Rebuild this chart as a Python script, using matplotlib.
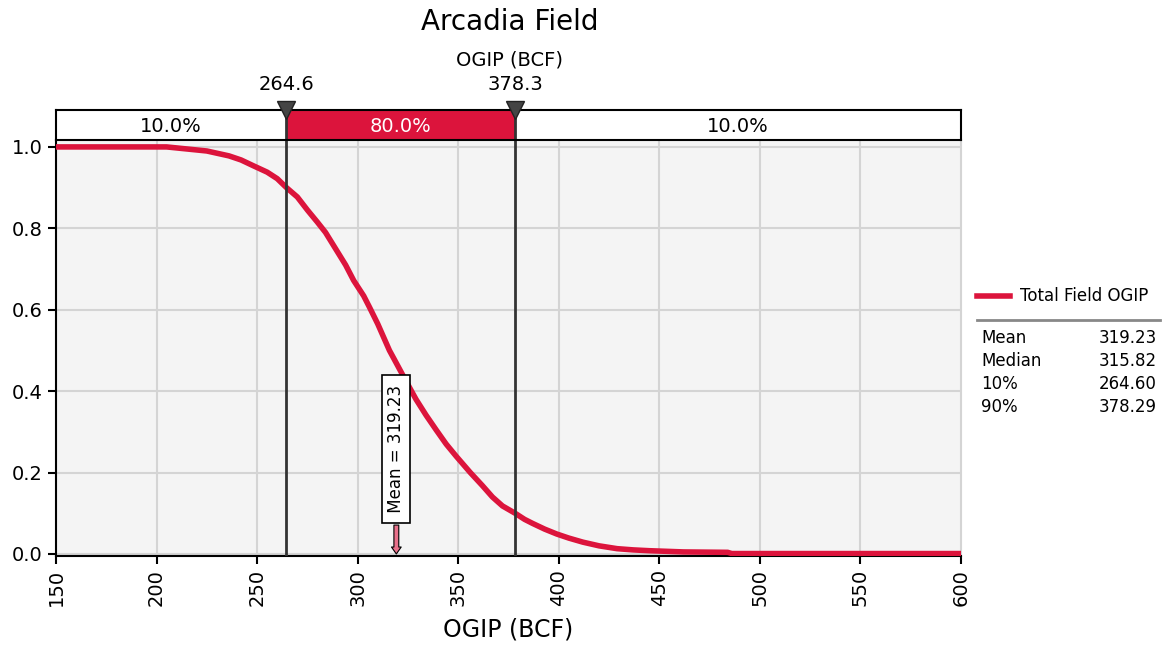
import matplotlib.pyplot as plt
from matplotlib.lines import Line2D

# exceedance curve: OGIP (BCF) -> probability
ogip = [150, 205, 215, 225, 236, 242, 248, 255, 260, 264.6, 270, 275, 280, 284,
        290, 294, 298, 303, 306, 310, 315.8, 318, 324, 329, 334, 339, 344, 349,
        356, 362, 367, 372, 378.3, 383, 387, 393, 399, 405, 412, 420, 429, 437,
        445, 462, 484, 486, 600]
prob = [1.0, 1.0, 0.995, 0.99, 0.978, 0.968, 0.954, 0.938, 0.922, 0.90, 0.877,
        0.845, 0.815, 0.79, 0.742, 0.71, 0.672, 0.634, 0.605, 0.565, 0.50, 0.48,
        0.425, 0.38, 0.341, 0.305, 0.27, 0.24, 0.20, 0.168, 0.14, 0.118, 0.10,
        0.085, 0.075, 0.061, 0.049, 0.039, 0.029, 0.02, 0.013, 0.01, 0.008,
        0.005, 0.004, 0.001, 0.001]

p10 = 264.6
p90 = 378.3
mean_val = 319.23
shares = [10.0, 80.0, 10.0]

stat_names = ['Mean', 'Median', '10%', '90%']
stat_values = [319.23, 315.82, 264.60, 378.29]

xticks = [150, 200, 250, 300, 350, 400, 450, 500, 550, 600]
yticks = [0.0, 0.2, 0.4, 0.6, 0.8, 1.0]

red = '#dc143c'
W, H = 1164, 653

fig = plt.figure(figsize=(W / 100, H / 100), dpi=100)

def px_axes(x0, y0, x1, y1):
    return fig.add_axes([x0 / W, 1 - y1 / H, (x1 - x0) / W, (y1 - y0) / H])

# main plot
ax = px_axes(56, 140, 961, 556)
ax.set_facecolor('#f4f4f4')
ax.plot(ogip, prob, color=red, lw=4, solid_capstyle='butt', zorder=3)
ax.set_xlim(150, 600)
ax.set_ylim(-0.005, 1.017)
ax.set_xticks(xticks)
ax.set_xticklabels([str(v) for v in xticks], rotation=90, fontsize=14)
ax.set_yticks(yticks)
ax.set_yticklabels([f'{v:.1f}' for v in yticks], fontsize=14)
ax.grid(True, color='#d4d4d4', lw=1.5)
ax.set_axisbelow(True)
ax.tick_params(length=6, width=1.5, direction='out')
ax.spines['top'].set_visible(False)
ax.spines['right'].set_color('#d4d4d4')
ax.spines['left'].set_linewidth(1.5)
ax.spines['bottom'].set_linewidth(1.5)
ax.set_xlabel('OGIP (BCF)', fontsize=17, labelpad=8)

for p in (p10, p90):
    ax.axvline(p, color='#333333', lw=2, zorder=4)

# mean marker
ax.text(mean_val, 0.258, f' Mean = {mean_val:.2f} ', rotation=90, ha='center',
        va='center', fontsize=12, zorder=6,
        bbox=dict(boxstyle='square,pad=0.3', fc='white', ec='black', lw=1.2))
ax.annotate('', xy=(mean_val, 0.0), xytext=(mean_val, 0.071),
            arrowprops=dict(arrowstyle='simple,head_width=0.7,head_length=0.5,tail_width=0.35',
                            fc='#e8708a', ec='black', lw=0.8, shrinkA=0, shrinkB=0),
            zorder=6)

# percentile bar above the plot
bx = px_axes(56, 110, 961, 140)
bx.set_xlim(150, 600)
bx.set_ylim(0, 1)
bx.set_xticks([])
bx.set_yticks([])
for s in bx.spines.values():
    s.set_linewidth(1.5)
edges = [150, p10, p90, 600]
for i, share in enumerate(shares):
    middle = i == 1
    if middle:
        bx.axvspan(edges[i], edges[i + 1], color=red, lw=0)
    bx.text((edges[i] + edges[i + 1]) / 2, 0.45, f'{share:.1f}%', ha='center',
            va='center', fontsize=14, color='white' if middle else 'black')
for p in (p10, p90):
    bx.axvline(p, color='#333333', lw=2)
    bx.plot([p], [1.0], marker='v', ms=13, color='#444444', mec='#222222',
            clip_on=False, zorder=5)
    bx.text(p, 1.55, f'{p:.1f}', ha='center', va='bottom', fontsize=14)

fig.text(510 / W, 1 - 22 / H, 'Arcadia Field', ha='center', va='center', fontsize=20)
fig.text(510 / W, 1 - 60 / H, 'OGIP (BCF)', ha='center', va='center', fontsize=14)

# legend / stats panel
lx = px_axes(970, 270, 1164, 430)
lx.set_xlim(970, 1164)
lx.set_ylim(430, 270)
lx.axis('off')
lx.add_line(Line2D([977, 1010], [296, 296], color=red, lw=4))
lx.text(1020, 296, 'Total Field OGIP', va='center', ha='left', fontsize=12)
lx.add_line(Line2D([977, 1160], [320, 320], color='#888888', lw=2))
for i, (name, val) in enumerate(zip(stat_names, stat_values)):
    y = 338 + i * 23
    lx.text(981, y, name, va='center', ha='left', fontsize=12)
    lx.text(1157, y, f'{val:.2f}', va='center', ha='right', fontsize=12)

fig.savefig('out.png', dpi=100)
